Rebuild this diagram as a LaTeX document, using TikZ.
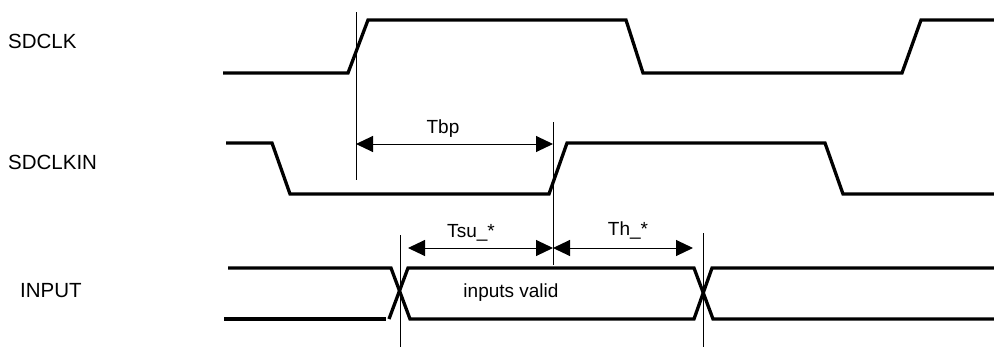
\documentclass[tikz,border=0pt]{standalone}
\usepackage{fontspec}
\setmainfont{Liberation Sans}
\usetikzlibrary{arrows.meta}
\tikzset{
  sig/.style={line width=3.3pt, line join=miter},
  guide/.style={line width=1pt},
  dim/.style={line width=1pt, {Triangle[length=17pt,width=16pt]}-{Triangle[length=17pt,width=16pt]}},
  sname/.style={font=\fontsize{20.5}{24}\selectfont, anchor=base west, inner sep=0pt},
  lbl/.style={font=\fontsize{19}{22}\selectfont, anchor=base, inner sep=0pt}
}
\begin{document}
\begin{tikzpicture}[x=1pt,y=-1pt]
\useasboundingbox (0,0) rectangle (994,348);
% signal names
\node[sname] (n1) at (8,48) {SDCLK};
\node[sname] (n2) at (8,169) {SDCLKIN};
\node[sname] (n3) at (20,297) {INPUT};
% SDCLK
\draw[sig] (223,73) -- (348,73) -- (368,20) -- (626,20) -- (643,73) -- (902,73) -- (921,20) -- (994,20);
% SDCLKIN
\draw[sig] (226,143) -- (272,143) -- (290,194) -- (549,194) -- (567,143) -- (825,143) -- (843,194) -- (994,194);
% INPUT
\draw[sig] (228,268) -- (391,268) -- (410,319) -- (694,319) -- (712,268) -- (994,268);
\draw[sig] (224,319) -- (386,319);
\draw[sig] (389,319) -- (408,268) -- (694,268) -- (713,319) -- (994,319);
% guide lines
\coordinate (v1t) at (356,12);  \coordinate (v1b) at (356,180);
\coordinate (v2t) at (553,122); \coordinate (v2b) at (553,265);
\coordinate (v3t) at (400,235); \coordinate (v3b) at (400,347);
\coordinate (v4t) at (703,233); \coordinate (v4b) at (703,347);
\draw[guide] (v1t) -- (v1b);
\draw[guide] (v2t) -- (v2b);
\draw[guide] (v3t) -- (v3b);
\draw[guide] (v4t) -- (v4b);
% dimension arrows
\coordinate (a1) at (356,144); \coordinate (a2) at (553,144);
\coordinate (b1) at (408,248); \coordinate (b2) at (553,248);
\coordinate (c2) at (693,248);
\draw[dim] (a1) -- (a2);
\draw[dim] (b1) -- (b2);
\draw[dim] (b2) -- (c2);
% labels
\node[lbl] (tbp) at (443,133) {Tbp};
\node[lbl] (tsu) at (471,237) {Tsu\_*};
\node[lbl] (th) at (628,235) {Th\_*};
\node[lbl] (iv) at (511,297) {inputs valid};
\end{tikzpicture}
\end{document}
